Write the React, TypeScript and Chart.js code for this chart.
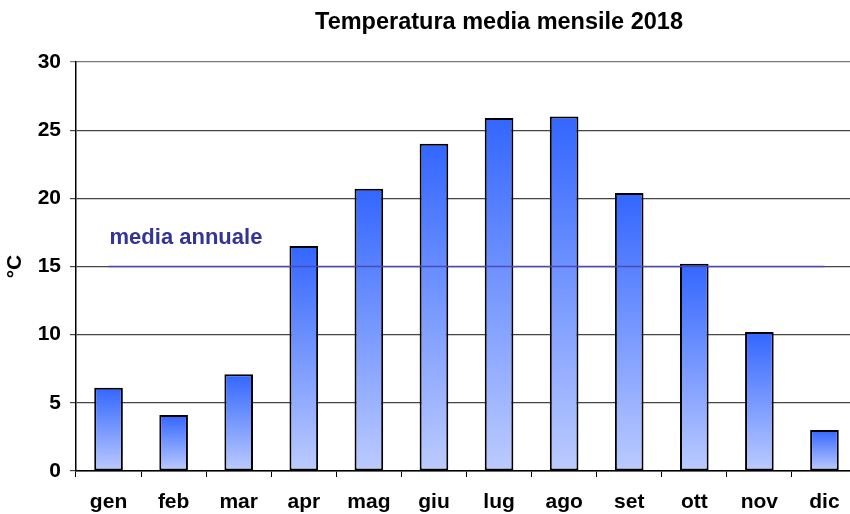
import React, { useEffect, useRef } from "react";
import { Chart, registerables } from "chart.js";

Chart.register(...registerables);

const months = ["gen", "feb", "mar", "apr", "mag", "giu", "lug", "ago", "set", "ott", "nov", "dic"];
const temps = [6.1, 4.1, 7.1, 16.5, 20.7, 24.0, 25.9, 26.0, 20.4, 15.2, 10.2, 3.0];
const annualMean = 15;
const meanLine = months.map(() => annualMean);
const chartTitle = "Temperatura media mensile 2018";
const meanLabel = "media annuale";
const yTitle = "°C";

const FONT = "'Liberation Sans', Arial, sans-serif";

const overlay = {
  id: "overlay",
  afterDraw(chart: any) {
    const ctx = chart.ctx;
    const x = chart.scales.x;
    const y = chart.scales.y;
    ctx.save();
    ctx.font = `bold 23.5px ${FONT}`;
    ctx.fillStyle = "#000";
    ctx.textAlign = "center";
    ctx.textBaseline = "middle";
    ctx.fillText(chartTitle, 499, 23);
    ctx.font = `bold 22px ${FONT}`;
    ctx.fillStyle = "#333399";
    ctx.textAlign = "left";
    ctx.fillText(meanLabel, x.getPixelForValue(0) + 1, y.getPixelForValue(17.1));
    ctx.restore();
  },
};

export default function App() {
  const ref = useRef<HTMLCanvasElement>(null);
  useEffect(() => {
    if (!ref.current) return;
    const chart = new Chart(ref.current, {
      type: "bar",
      data: {
        labels: months,
        datasets: [
          {
            type: "line",
            data: meanLine,
            borderColor: "#4a4ab8",
            borderWidth: 1.5,
            pointRadius: 0,
            order: 0,
          } as any,
          {
            type: "bar",
            data: temps,
            order: 1,
            borderColor: "#000",
            borderWidth: 2,
            borderSkipped: false,
            categoryPercentage: 1,
            barPercentage: 0.44,
            backgroundColor: (c: any) => {
              const ch = c.chart;
              const ys = ch.scales?.y;
              if (!ys || c.dataIndex === undefined) return "#6688ff";
              const top = ys.getPixelForValue(temps[c.dataIndex]);
              const bot = ys.getPixelForValue(0);
              if (!isFinite(top) || !isFinite(bot) || top === bot) return "#6688ff";
              const g = ch.ctx.createLinearGradient(0, top, 0, bot);
              g.addColorStop(0, "#3366ff");
              g.addColorStop(1, "#bccbff");
              return g;
            },
          } as any,
        ],
      },
      options: {
        responsive: false,
        animation: false,
        layout: { padding: { top: 62, right: 0, left: 0, bottom: 0 } },
        plugins: { legend: { display: false }, tooltip: { enabled: false }, title: { display: false } },
        scales: {
          x: {
            offset: true,
            grid: { offset: true, drawOnChartArea: false, drawTicks: true, tickLength: 6, color: "#000" },
            border: { color: "#000", width: 1.5 },
            ticks: { color: "#000", font: { family: FONT, size: 21, weight: "bold" }, padding: 13 },
            afterFit: (s: any) => { s.height = 43; },
          },
          y: {
            min: 0,
            max: 30,
            ticks: { stepSize: 5, color: "#000", font: { family: FONT, size: 21, weight: "bold" }, padding: 9 },
            grid: {
              color: (c: any) => (c.tick && c.tick.value === 30 ? "#777" : "#444"),
              tickLength: 6,
              lineWidth: 1.2,
            },
            border: { color: "#000", width: 1.5 },
            title: { display: true, text: yTitle, color: "#000", font: { family: FONT, size: 21, weight: "bold" }, padding: { top: 3, bottom: 0 } },
            afterFit: (s: any) => { s.width = 76; },
          },
        },
      },
      plugins: [overlay],
    });
    return () => chart.destroy();
  }, []);
  return (
    <div style={{ position: "absolute", left: 0, top: 0, width: 850, height: 514, background: "#fff", overflow: "hidden" }}>
      <canvas ref={ref} width={857} height={514} />
    </div>
  );
}
